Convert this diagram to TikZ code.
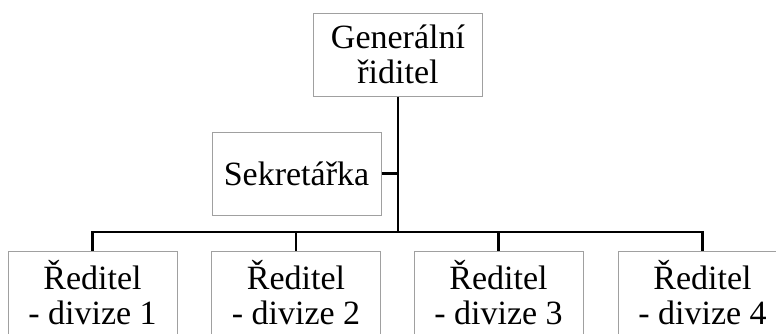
\documentclass[tikz,border=0pt]{standalone}
\usepackage{fontspec}
\setmainfont{Liberation Serif}
\usepackage{tikz}
\usetikzlibrary{positioning}

\tikzset{
	orgbox/.style={draw=custcol_a0_a0_a0, line width=1pt, fill=white, align=center,
		minimum width=169pt, minimum height=83pt, inner sep=0pt,
		font=\fontsize{34pt}{35pt}\selectfont},
	orgline/.style={line width=2.5pt, custcol_0_0_0}
}

\begin{document}
\begin{tikzpicture}[x=1pt,y=-1pt]
	\definecolor{custcol_0_0_0}{RGB}{0, 0, 0}
	\definecolor{custcol_a0_a0_a0}{RGB}{160, 160, 160}
	\useasboundingbox (0,0) rectangle (776,333);
	\clip (0,0) rectangle (776,333);
	% boxes
	\node[orgbox] (gr) at (398.0,54.5) {Generální\\řiditel};
	\node[orgbox] (sek) at (296.5,173.5) {Sekretářka};
	\node[orgbox] (d1) at (92.5,292.5) {Ředitel\\- divize 1};
	\node[orgbox] (d2) at (296.0,292.5) {Ředitel\\- divize 2};
	\node[orgbox] (d3) at (498.5,292.5) {Ředitel\\- divize 3};
	\node[orgbox] (d4) at (702.5,292.5) {Ředitel\\- divize 4};
	\coordinate (bus) at (398.0,232.0);
	% lines
	\draw[orgline] (gr.south) -- (bus);
	\draw[orgline] (sek.east) -- (sek.east -| bus);
	\draw[orgline] (d1.north) |- (bus) -| (d4.north);
	\draw[orgline] (d2.north) -- (d2.north |- bus);
	\draw[orgline] (d3.north) -- (d3.north |- bus);
\end{tikzpicture}
\end{document}
